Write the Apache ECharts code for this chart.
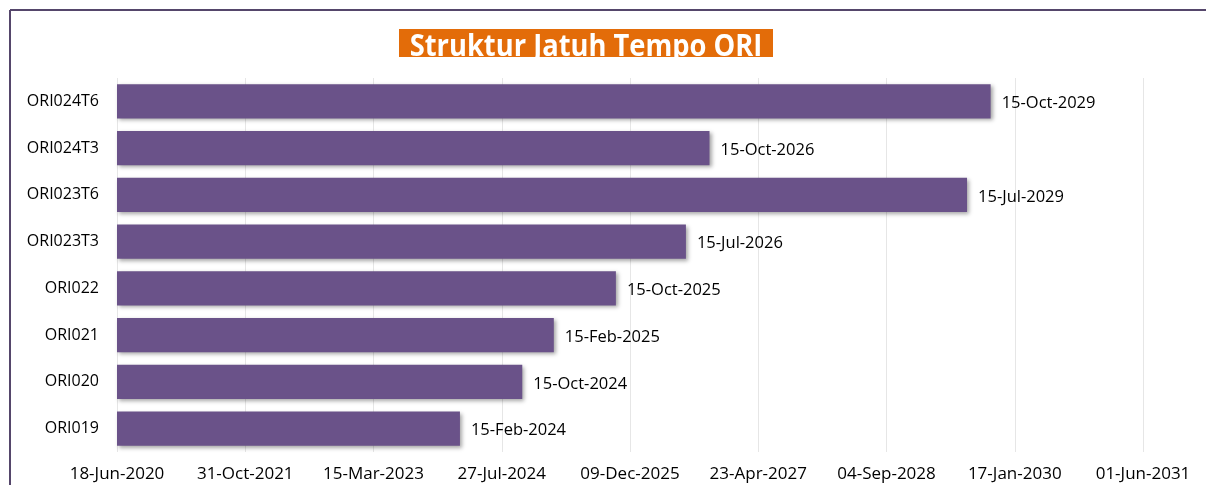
<!DOCTYPE html>
<html>
<head>
<meta charset="utf-8">
<script src="https://cdn.jsdelivr.net/npm/echarts@6/dist/echarts.min.js"></script>
<style>
  html, body { margin: 0; padding: 0; background: #fff; }
  #chart { width: 1206px; height: 485px; }
</style>
</head>
<body>
<div id="chart"></div>
<script>
// seri ORI, dari bawah ke atas
const categories = ['ORI019', 'ORI020', 'ORI021', 'ORI022', 'ORI023T3', 'ORI023T6', 'ORI024T3', 'ORI024T6'];
const maturities = ['2024-02-15', '2024-10-15', '2025-02-15', '2025-10-15', '2026-07-15', '2029-07-15', '2026-10-15', '2029-10-15'];

// sumbu tanggal dalam hari serial (gaya Excel): 18-Jun-2020 .. 01-Jun-2031, tiap 500 hari
const axisMin = 44000;
const axisMax = 48000;
const axisStep = 500;

const monthNames = ['Jan', 'Feb', 'Mar', 'Apr', 'May', 'Jun', 'Jul', 'Aug', 'Sep', 'Oct', 'Nov', 'Dec'];
const DAY = 86400000;
const EPOCH = Date.UTC(1899, 11, 30);

function toSerial(s) {
    const p = s.split('-').map(Number);
    return Math.round((Date.UTC(p[0], p[1] - 1, p[2]) - EPOCH) / DAY);
}
function fmtSerial(v) {
    const d = new Date(EPOCH + Math.round(v) * DAY);
    const dd = String(d.getUTCDate()).padStart(2, '0');
    return dd + '-' + monthNames[d.getUTCMonth()] + '-' + d.getUTCFullYear();
}

const chart = echarts.init(document.getElementById('chart'));
const font = '"Open Sans", "Liberation Sans", sans-serif';

chart.setOption({
    animation: false,
    textStyle: { fontFamily: font },
    grid: { left: 117, right: 63, top: 78, bottom: 33, containLabel: false },
    xAxis: {
        type: 'value',
        min: axisMin,
        max: axisMax,
        interval: axisStep,
        axisLine: { show: false },
        axisTick: { show: false },
        splitLine: { show: true, lineStyle: { color: '#e6e6e6', width: 1 } },
        axisLabel: {
            color: '#000',
            fontSize: 17,
            margin: 14,
            formatter: fmtSerial
        }
    },
    yAxis: {
        type: 'category',
        data: categories,
        axisLine: { show: false },
        axisTick: { show: false },
        axisLabel: { color: '#000', fontSize: 16, margin: 18 }
    },
    series: [{
        type: 'bar',
        clip: true,
        data: maturities.map(toSerial),
        barCategoryGap: '27%',
        itemStyle: {
            color: '#6a5289',
            shadowColor: 'rgba(0,0,0,0.35)',
            shadowBlur: 4,
            shadowOffsetX: 2,
            shadowOffsetY: 2
        },
        label: {
            show: true,
            position: 'right',
            distance: 11,
            offset: [0, 2],
            color: '#000',
            fontSize: 16.5,
            formatter: p => fmtSerial(p.value)
        }
    }],
    graphic: [
        { type: 'line', shape: { x1: 10, y1: 10, x2: 1206, y2: 10 }, style: { stroke: '#55466b', lineWidth: 2 } },
        { type: 'line', shape: { x1: 10, y1: 10, x2: 10, y2: 485 }, style: { stroke: '#55466b', lineWidth: 2 } },
        { type: 'rect', shape: { x: 399, y: 29, width: 374, height: 28 }, style: { fill: '#e36c09' }, z: 10 },
        {
            type: 'text', x: 586, y: 62, z: 11, scaleX: 0.91,
            style: {
                text: 'Struktur Jatuh Tempo ORI', fill: '#fff',
                font: 'bold 30px ' + font, textAlign: 'center', textVerticalAlign: 'bottom'
            }
        },
        // potong bagian bawah judul seperti di gambar asli
        { type: 'rect', shape: { x: 395, y: 57, width: 382, height: 16 }, style: { fill: '#fff' }, z: 12 }
    ]
});
</script>
</body>
</html>
